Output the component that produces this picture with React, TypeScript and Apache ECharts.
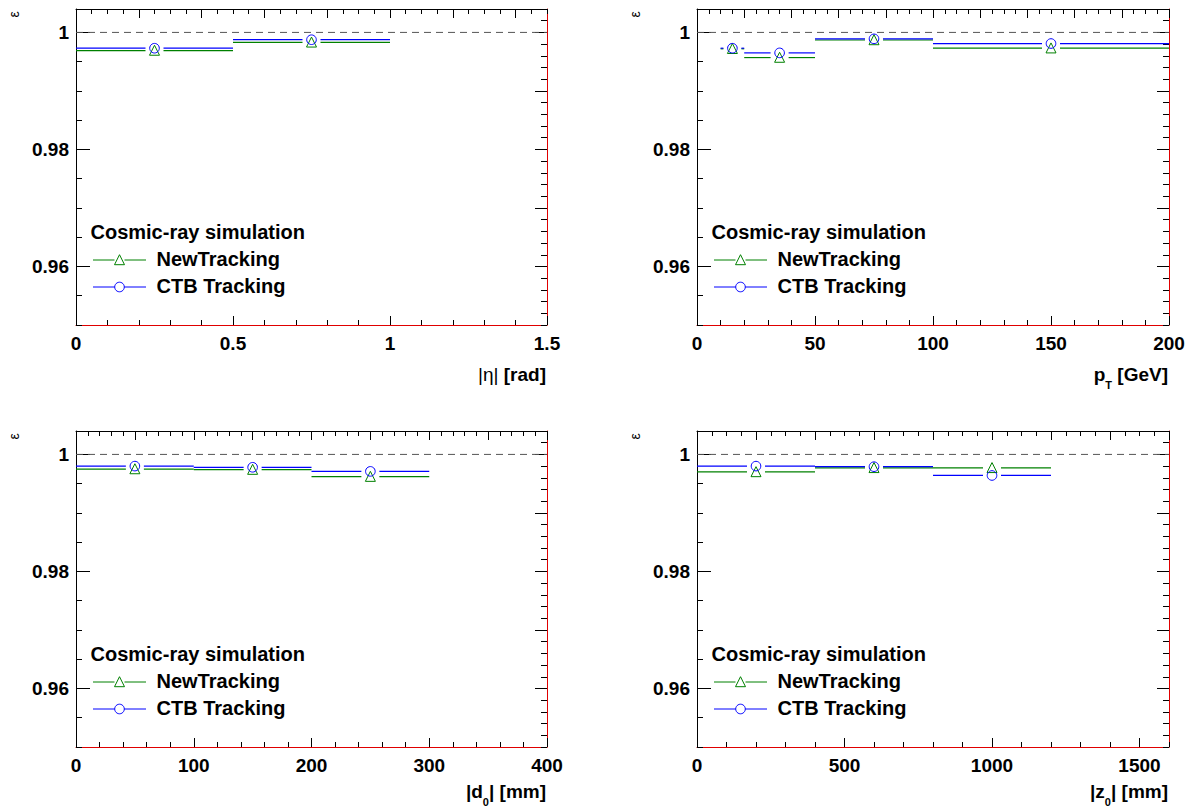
import React, { useEffect, useRef } from "react";
import * as echarts from "echarts";

const FONT = "'Liberation Sans', Arial, Helvetica, sans-serif";
const GREEN = "#008000";
const BLUE = "#0000ff";
const FRAME_RED = "#e00000";

// ---- data (efficiency per bin, bin edges) ----
const etaEdges = [0, 0.5, 1];
const etaNewTracking = [0.9969, 0.9983];
const etaCtbTracking = [0.9973, 0.99875];

const ptEdges = [10, 20, 50, 100, 200];
const ptNewTracking = [0.9972, 0.9957, 0.9987, 0.9973];
const ptCtbTracking = [0.9973, 0.9965, 0.9989, 0.9981];

const d0Edges = [0, 100, 200, 300];
const d0NewTracking = [0.9975, 0.9974, 0.9962];
const d0CtbTracking = [0.998, 0.9978, 0.9971];

const z0Edges = [0, 400, 800, 1200];
const z0NewTracking = [0.997, 0.9977, 0.9977];
const z0CtbTracking = [0.998, 0.9979, 0.9964];

// ---- axes ----
const yMin = 0.95;
const yMax = 1.004;
const yLeftLabels = [0.96, 0.98, 1];
const yLeftMinorStep = 0.005;
const yRightMajor = [0.96, 0.97, 0.98, 0.99, 1];
const yRightMinorStep = 0.002;
const referenceLevel = 1;

const etaTickLabels = [0, 0.5, 1, 1.5];
const ptTickLabels = [0, 50, 100, 150, 200];
const d0TickLabels = [0, 100, 200, 300, 400];
const z0TickLabels = [0, 500, 1000, 1500];

const legendTitle = "Cosmic-ray simulation";
const seriesNames = ["NewTracking", "CTB Tracking"];

function steps(min: number, max: number, step: number) {
  const out: number[] = [];
  for (let k = 0; ; k++) {
    const v = Math.round((min + k * step) * 1e6) / 1e6;
    if (v > max + 1e-9) break;
    out.push(v);
  }
  return out;
}

const PANEL_H = 316;
const panels = [
  { edges: etaEdges, newT: etaNewTracking, ctb: etaCtbTracking, xMax: 1.5, labels: etaTickLabels, bottomMinor: 0.1, topMajor: 0.2, topMinor: 0.05, title: "{n||η|}{b| [rad]}", left: 76, top: 9, width: 471, titleY: 374 },
  { edges: ptEdges, newT: ptNewTracking, ctb: ptCtbTracking, xMax: 200, labels: ptTickLabels, bottomMinor: 10, topMajor: 20, topMinor: 5, title: "{b|p}{s|T}{b| [GeV]}", left: 697, top: 9, width: 472, titleY: 374 },
  { edges: d0Edges, newT: d0NewTracking, ctb: d0CtbTracking, xMax: 400, labels: d0TickLabels, bottomMinor: 20, topMajor: 50, topMinor: 10, title: "{b||d}{s|0}{b|| [mm]}", left: 76, top: 431, width: 471, titleY: 791 },
  { edges: z0Edges, newT: z0NewTracking, ctb: z0CtbTracking, xMax: 1600, labels: z0TickLabels, bottomMinor: 100, topMajor: 200, topMinor: 50, title: "{b||z}{s|0}{b|| [mm]}", left: 697, top: 431, width: 472, titleY: 791 },
];

const tri = (x: number, y: number) => [
  [x, y - 5.3],
  [x - 5, y + 4.7],
  [x + 5, y + 4.7],
];

function makeRender(kind: "triangle" | "circle", color: string) {
  return (params: any, api: any) => {
    const lo = api.value(0);
    const hi = api.value(1);
    const v = api.value(2);
    const a = api.coord([lo, v]);
    const b = api.coord([hi, v]);
    const c = api.coord([(lo + hi) / 2, v]);
    const gap = 9;
    const ls = { stroke: color, lineWidth: 1.2 };
    const children: any[] = [];
    if (c[0] - gap > a[0]) children.push({ type: "line", shape: { x1: a[0], y1: a[1], x2: c[0] - gap, y2: c[1] }, style: ls });
    if (b[0] > c[0] + gap) children.push({ type: "line", shape: { x1: c[0] + gap, y1: c[1], x2: b[0], y2: b[1] }, style: ls });
    if (kind === "triangle") {
      children.push({ type: "polygon", shape: { points: tri(c[0], c[1]) }, style: { fill: "none", stroke: color, lineWidth: 1 } });
    } else {
      children.push({ type: "circle", shape: { cx: c[0], cy: c[1], r: 4.8 }, style: { fill: "none", stroke: color, lineWidth: 1 } });
    }
    return { type: "group", children };
  };
}

function buildOption() {
  const grid: any[] = [];
  const xAxis: any[] = [];
  const yAxis: any[] = [];
  const series: any[] = [];
  const graphic: any[] = [];

  const labelStyle = {
    show: true, fontSize: 19, fontWeight: "bold", color: "#000", fontFamily: FONT, hideOverlap: false,
    formatter: (v: number) => String(v),
  };

  panels.forEach((p, gi) => {
    grid.push({ left: p.left, top: p.top, width: p.width, height: PANEL_H, outerBoundsMode: "none", containLabel: false });

    const xBase = { type: "value", gridIndex: gi, min: 0, max: p.xMax, splitLine: { show: false }, axisLabel: { show: false } };
    const tickStyle = { color: "#000", width: 1 };
    xAxis.push({
      ...xBase, position: "bottom",
      axisLine: { show: true, onZero: false, lineStyle: { color: FRAME_RED, width: 1 } },
      axisTick: { show: true, inside: true, length: 9, customValues: p.labels, lineStyle: tickStyle },
      axisLabel: { ...labelStyle, customValues: p.labels, margin: 9 },
    });
    xAxis.push({
      ...xBase, position: "bottom",
      axisLine: { show: false, onZero: false },
      axisTick: { show: true, inside: true, length: 5, customValues: steps(0, p.xMax, p.bottomMinor), lineStyle: tickStyle },
    });
    xAxis.push({
      ...xBase, position: "top",
      axisLine: { show: true, onZero: false, lineStyle: { color: "#000", width: 1 } },
      axisTick: { show: true, inside: true, length: 9, customValues: steps(0, p.xMax, p.topMajor), lineStyle: tickStyle },
    });
    xAxis.push({
      ...xBase, position: "top",
      axisLine: { show: false, onZero: false },
      axisTick: { show: true, inside: true, length: 5, customValues: steps(0, p.xMax, p.topMinor), lineStyle: tickStyle },
    });

    const yBase = { type: "value", gridIndex: gi, min: yMin, max: yMax, splitLine: { show: false }, axisLabel: { show: false } };
    yAxis.push({
      ...yBase, position: "left",
      axisLine: { show: true, onZero: false, lineStyle: { color: "#000", width: 1 } },
      axisTick: { show: true, inside: true, length: 14, customValues: yLeftLabels, lineStyle: tickStyle },
      axisLabel: { ...labelStyle, customValues: yLeftLabels, margin: 7 },
    });
    yAxis.push({
      ...yBase, position: "left",
      axisLine: { show: false, onZero: false },
      axisTick: { show: true, inside: true, length: 6, customValues: steps(yMin, yMax, yLeftMinorStep), lineStyle: tickStyle },
    });
    yAxis.push({
      ...yBase, position: "right",
      axisLine: { show: true, onZero: false, lineStyle: { color: FRAME_RED, width: 1 } },
      axisTick: { show: true, inside: true, length: 12, customValues: yRightMajor, lineStyle: tickStyle },
    });
    yAxis.push({
      ...yBase, position: "right",
      axisLine: { show: false, onZero: false },
      axisTick: { show: true, inside: true, length: 6, customValues: steps(yMin, yMax, yRightMinorStep), lineStyle: tickStyle },
    });

    const xi = gi * 4;
    const yi = gi * 4;
    series.push({
      type: "line", xAxisIndex: xi, yAxisIndex: yi, silent: true, symbol: "none", z: 1,
      data: [[0, referenceLevel], [p.xMax, referenceLevel]],
      lineStyle: { type: [7, 5], color: "#555", width: 1 },
    });
    series.push({
      type: "custom", name: seriesNames[0], xAxisIndex: xi, yAxisIndex: yi, coordinateSystem: "cartesian2d",
      data: p.newT.map((v, k) => [p.edges[k], p.edges[k + 1], v]),
      encode: { x: [0, 1], y: 2 },
      renderItem: makeRender("triangle", GREEN), z: 3,
    });
    series.push({
      type: "custom", name: seriesNames[1], xAxisIndex: xi, yAxisIndex: yi, coordinateSystem: "cartesian2d",
      data: p.ctb.map((v, k) => [p.edges[k], p.edges[k + 1], v]),
      encode: { x: [0, 1], y: 2 },
      renderItem: makeRender("circle", BLUE), z: 4,
    });

    // y-axis title epsilon (rotated)
    graphic.push({
      type: "text", x: p.left - 62, y: p.top + 5.3, rotation: Math.PI / 2,
      style: { text: "ε", fontSize: 14, fontFamily: FONT, fill: "#000", align: "center", verticalAlign: "middle" },
    });
    // x-axis title
    graphic.push({
      type: "text", x: p.left + p.width - 1, y: p.titleY,
      style: {
        text: p.title, align: "right", verticalAlign: "middle", fill: "#000",
        rich: {
          b: { fontSize: 19, fontWeight: "bold", fontFamily: FONT, lineHeight: 24, fill: "#000" },
          n: { fontSize: 19, fontWeight: "normal", fontFamily: FONT, lineHeight: 24, fill: "#000" },
          s: { fontSize: 11, fontWeight: "bold", fontFamily: FONT, lineHeight: 12, padding: [21, 0, 0, 0], fill: "#000" },
        },
      },
    });
    // legend
    const txt = (text: string, x: number, y: number) => ({
      type: "text", x, y,
      style: { text, fontSize: 20, fontWeight: "bold", fontFamily: FONT, fill: "#000", align: "left", verticalAlign: "middle" },
    });
    graphic.push({
      type: "group", x: p.left, y: p.top,
      children: [
        txt(legendTitle, 14.5, 222.5),
        { type: "line", shape: { x1: 17, y1: 251, x2: 38.5, y2: 251 }, style: { stroke: GREEN, lineWidth: 1 } },
        { type: "line", shape: { x1: 48.5, y1: 251, x2: 70, y2: 251 }, style: { stroke: GREEN, lineWidth: 1 } },
        { type: "polygon", shape: { points: tri(43.5, 251) }, style: { fill: "none", stroke: GREEN, lineWidth: 1 } },
        txt(seriesNames[0], 80.5, 250),
        { type: "line", shape: { x1: 17, y1: 278, x2: 38.7, y2: 278 }, style: { stroke: BLUE, lineWidth: 1 } },
        { type: "line", shape: { x1: 48.3, y1: 278, x2: 70, y2: 278 }, style: { stroke: BLUE, lineWidth: 1 } },
        { type: "circle", shape: { cx: 43.5, cy: 278, r: 4.8 }, style: { fill: "none", stroke: BLUE, lineWidth: 1 } },
        txt(seriesNames[1], 80.5, 276.5),
      ],
    });
  });

  return {
    animation: false,
    backgroundColor: "#fff",
    textStyle: { fontFamily: FONT },
    grid, xAxis, yAxis, series, graphic,
  };
}

export default function App() {
  const ref = useRef<HTMLDivElement>(null);
  useEffect(() => {
    if (!ref.current) return;
    const chart = echarts.init(ref.current, undefined, { renderer: "svg" });
    chart.setOption(buildOption() as any);
    return () => chart.dispose();
  }, []);
  return <div ref={ref} style={{ position: "absolute", left: 0, top: 0, width: 1193, height: 807 }} />;
}
